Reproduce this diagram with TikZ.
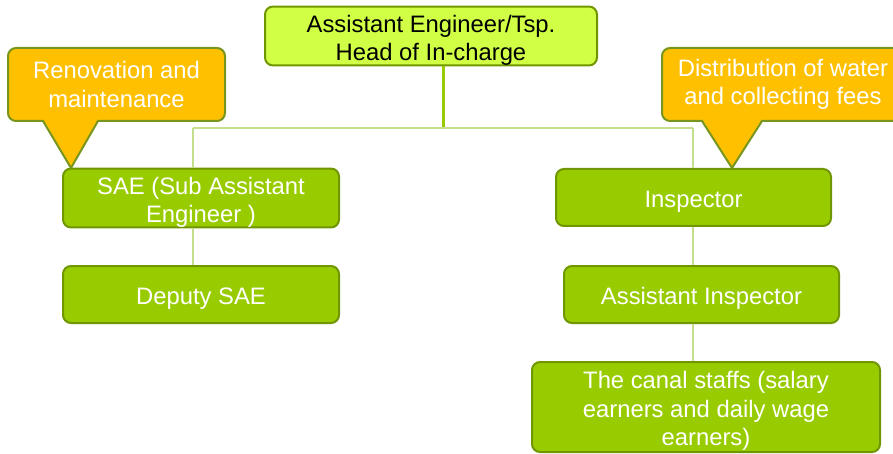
\documentclass[tikz,border=0pt]{standalone}
\usepackage{fontspec}
\setmainfont{Liberation Sans}
\usetikzlibrary{positioning}
\definecolor{boxgreen}{RGB}{153,204,0}
\definecolor{boxedge}{RGB}{112,150,0}
\definecolor{headgreen}{RGB}{208,255,70}
\definecolor{noteorange}{RGB}{255,192,0}
\definecolor{noteedge}{RGB}{120,150,30}
\definecolor{linkgreen}{RGB}{196,222,140}
\newcommand{\lift}{\rule{0pt}{25.5pt}}

\begin{document}
\begin{tikzpicture}[x=1pt,y=-1pt,
  box/.style={draw=boxedge,fill=boxgreen,line width=2pt,rounded corners=8pt,text=white,
    align=center,inner sep=0pt,font=\fontsize{23.8}{28.5}\selectfont},
  headbox/.style={box,fill=headgreen,text=black},
  note/.style={box,draw=noteedge,fill=noteorange},
  link/.style={linkgreen,line width=1.2pt}]
\useasboundingbox (0,0) rectangle (893,454);
% boxes
\node[headbox,minimum width=332pt,minimum height=56pt] (head) at (431,36) {\lift Assistant Engineer/Tsp.\\Head of In-charge};
\node[box,minimum width=276pt,minimum height=58pt] (sae) at (201,198) {\lift SAE (Sub Assistant\\Engineer )};
\node[box,minimum width=276pt,minimum height=57pt] (deputy) at (201,294.5) {\lift Deputy SAE};
\node[box,minimum width=275pt,minimum height=57pt] (insp) at (693.5,197.5) {\lift Inspector};
\node[box,minimum width=275pt,minimum height=57pt] (asst) at (701.5,294.5) {\lift Assistant Inspector};
\node[box,minimum width=348pt,minimum height=90pt] (canal) at (706,407) {\lift The canal staffs (salary\\earners and daily wage\\earners)};
% callouts
\node[note,minimum width=217pt,minimum height=73pt] (renov) at (116.5,84.5) {Renovation and\\maintenance};
\node[note,minimum width=242pt,minimum height=73pt] (distr) at (783,84.5) {Distribution of water\\and collecting fees};
\coordinate (renovtip) at (71,168);
\coordinate (distrtip) at (732,168);
\fill[noteorange] (43,119) -- (renovtip) -- (98,119) -- cycle;
\draw[noteedge,line width=2pt,line join=round] (43,121) -- (renovtip) -- (98,121);
\fill[noteorange] (702,119) -- (distrtip) -- (762,119) -- cycle;
\draw[noteedge,line width=2pt,line join=round] (702,121) -- (distrtip) -- (762,121);
% connectors
\coordinate (trunk) at (443,128);
\coordinate (left) at (193,128);
\coordinate (right) at (693,128);
\draw[boxgreen,line width=3pt] (head.south -| trunk) -- (trunk);
\draw[link] (left) -- (right);
\draw[link] (left) -- (sae.north -| left);
\draw[link] (right) -- (insp.north -| right);
\draw[link] (sae.south -| left) -- (deputy.north -| left);
\draw[link] (insp.south -| right) -- (asst.north -| right);
\draw[link] (asst.south -| right) -- (canal.north -| right);
\end{tikzpicture}
\end{document}
